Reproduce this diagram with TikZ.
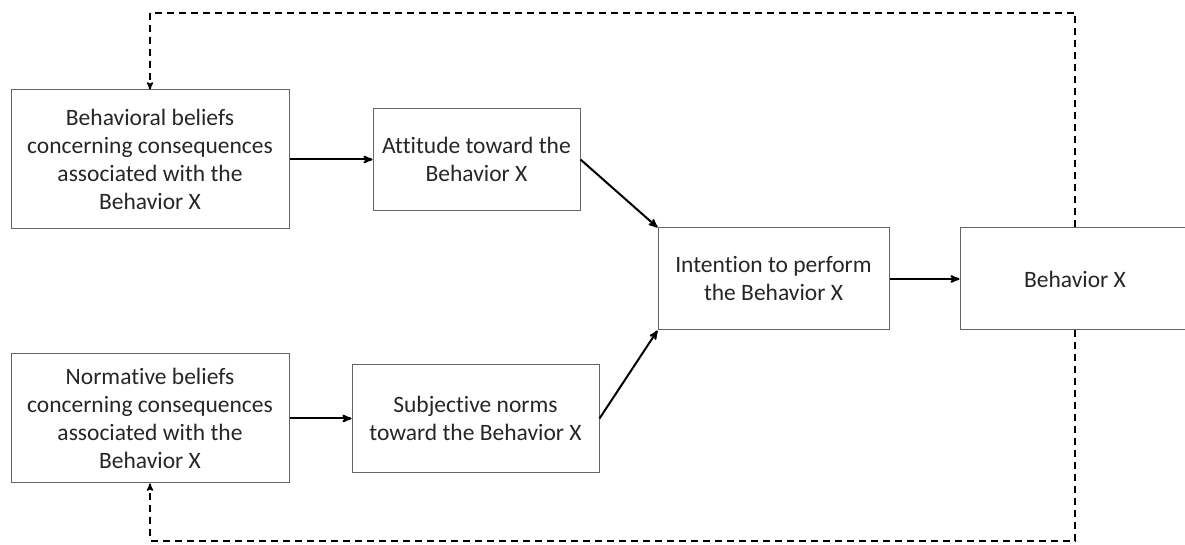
\documentclass[tikz,border=0pt]{standalone}
\usepackage{fontspec}
\setmainfont{Carlito}[Ligatures=NoCommon]
\usetikzlibrary{arrows,positioning}

\begin{document}
\begin{tikzpicture}[>=stealth', x=1pt, y=1pt,
	box/.style={draw=black!60, line width=1pt, text=black!85, align=center,
		font=\fontsize{23.5}{28}\selectfont, inner sep=0pt},
	link/.style={->, line width=2pt},
	fb/.style={->, line width=1.5pt, dash pattern=on 7pt off 5pt}]

	\useasboundingbox (0,0) rectangle (1185,545);

	% Nodes {bb, att, nb, sn, int, beh}
	\node [box, minimum width=278, minimum height=139] (bb)  at (150,385.5) {Behavioral beliefs\\concerning consequences\\associated with the\\Behavior X};
	\node [box, minimum width=207, minimum height=102] (att) [right=83pt of bb] {Attitude toward the\\Behavior X};
	\node [box, minimum width=278, minimum height=129] (nb)  at (150,126.5) {Normative beliefs\\concerning consequences\\associated with the\\Behavior X};
	\node [box, minimum width=247, minimum height=108] (sn)  [right=62pt of nb] {Subjective norms\\toward the Behavior X};
	\node [box, minimum width=231, minimum height=102] (int) at (773.5,266) {Intention to perform\\the Behavior X};
	\node [box, minimum width=230, minimum height=102] (beh) [right=70pt of int] {Behavior X};

	\coordinate (topline) at (0,532);
	\coordinate (botline) at (0,4);

	% Paths
	\path [link] (bb)  edge (att);
	\path [link] (nb)  edge (sn);
	\path [link] (att.east) edge (int.north west);
	\path [link] (sn.east)  edge (int.south west);
	\path [link] (int) edge (beh);

	% Feedback
	\draw [fb] (beh.north) -- (beh.north |- topline) -| (bb.north);
	\draw [fb] (beh.south) -- (beh.south |- botline) -| (nb.south);

\end{tikzpicture}
\end{document}
